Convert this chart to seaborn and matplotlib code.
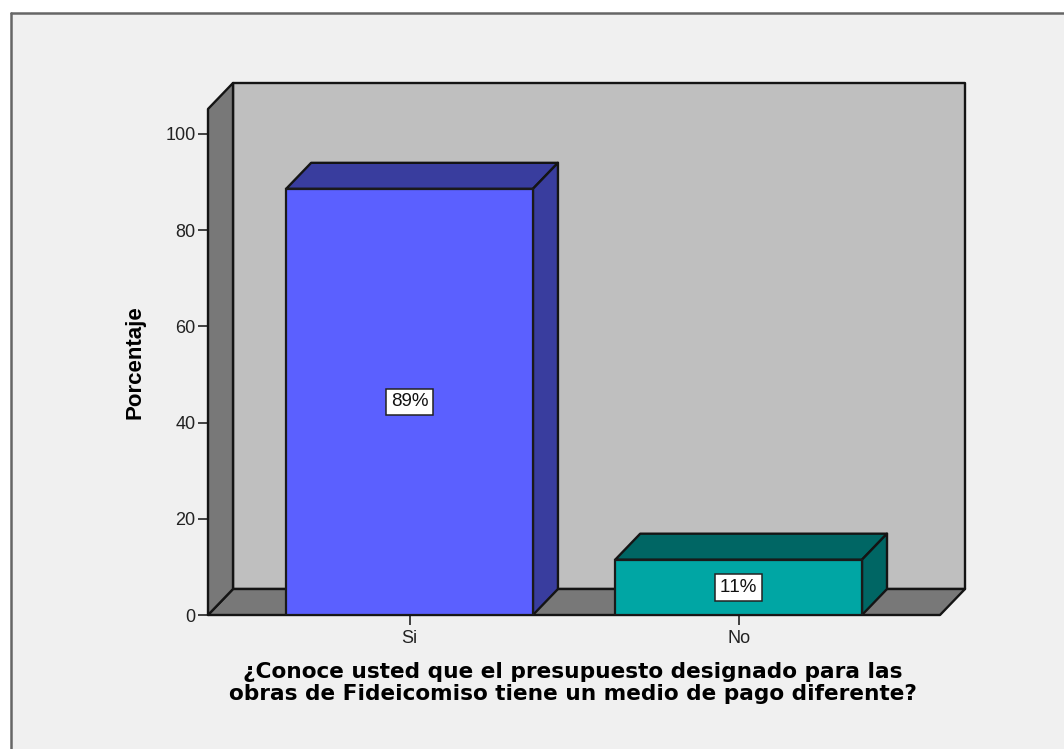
import matplotlib
matplotlib.use("Agg")
import matplotlib.pyplot as plt
from matplotlib.patches import Polygon, Rectangle
from matplotlib.lines import Line2D
import seaborn as sns

categories = ["Si", "No"]
values = [88.6, 11.5]
labels = ["89%", "11%"]
front_colors = ["#5b60ff", "#00a6a4"]
top_colors = ["#393d9e", "#006664"]
y_ticks = [0, 20, 40, 60, 80, 100]
y_title = "Porcentaje"
x_title = "¿Conoce usted que el presupuesto designado para las\nobras de Fideicomiso tiene un medio de pago diferente?"

W, H = 1064, 749
sns.set_theme(style="white")
plt.rcParams["font.family"] = ["Liberation Sans", "DejaVu Sans"]
plt.rcParams["text.kerning_factor"] = 6

fig = plt.figure(figsize=(W / 100, H / 100), dpi=100, facecolor="white")
fig.add_artist(Rectangle((11 / W, 0), 1, 1 - 13 / H, transform=fig.transFigure,
                         facecolor="#f0f0f0", edgecolor="none", zorder=-5))
frame = "#666666"
fig.add_artist(Line2D([11 / W, 11 / W], [0, 1 - 13 / H], color=frame, lw=1.8))
fig.add_artist(Line2D([11 / W, 1], [1 - 13 / H, 1 - 13 / H], color=frame, lw=1.8))

ax = fig.add_axes([208 / W, 1 - 615 / H, 757 / W, 532 / H])
ax.patch.set_visible(False)
for s in ax.spines.values():
    s.set_visible(False)

sns.barplot(x=categories, y=values, hue=categories, hue_order=categories,
            palette=front_colors, width=0.75, saturation=1, legend=False,
            edgecolor="#1a1a1a", linewidth=1.6, ax=ax, zorder=3)

xmin, xmax = -0.6125, 1.688
ymax = 110.6
ax.set_xlim(xmin, xmax)
ax.set_ylim(0, ymax)
dx = 25 / 329
dy = 26 / 4.81
line = dict(edgecolor="#141414", linewidth=1.7, joinstyle="round")
top_front = ymax - dy
right_front = xmax - dx

ax.add_patch(Polygon([(xmin + dx, dy), (xmax, dy), (xmax, ymax), (xmin + dx, ymax)],
                     facecolor="#bfbfbf", zorder=0.5, clip_on=False, **line))
ax.add_patch(Polygon([(xmin, 0), (right_front, 0), (xmax, dy), (xmin + dx, dy)],
                     facecolor="#787878", zorder=0.6, clip_on=False, **line))
ax.add_patch(Polygon([(xmin, 0), (xmin + dx, dy), (xmin + dx, ymax), (xmin, top_front)],
                     facecolor="#787878", zorder=0.7, clip_on=False, **line))

for bar, v, lab, dark in zip(ax.patches[:2], values, labels, top_colors):
    x0, x1 = bar.get_x(), bar.get_x() + bar.get_width()
    ax.add_patch(Polygon([(x0, v), (x1, v), (x1 + dx, v + dy), (x0 + dx, v + dy)],
                         facecolor=dark, zorder=2.5, **line))
    ax.add_patch(Polygon([(x1, 0), (x1 + dx, dy), (x1 + dx, v + dy), (x1, v)],
                         facecolor=dark, zorder=2.5, **line))
    ax.text((x0 + x1) / 2, v / 2, lab, ha="center", va="center", fontsize=13.5,
            color="#111111", zorder=5,
            bbox=dict(boxstyle="square,pad=0.25", facecolor="white",
                      edgecolor="#222222", linewidth=1.1))

ax.set_yticks(y_ticks)
ax.tick_params(axis="y", length=7.5, width=1.2, color="#222222", pad=1.5,
               labelsize=13, labelcolor="#222222", left=True)
ax.tick_params(axis="x", length=7.5, width=1.2, color="#222222", pad=3,
               labelsize=13, labelcolor="#222222", bottom=True)
ax.set_xticks([0, 1])
ax.set_xticklabels(categories)

ax.set_ylabel(y_title, fontsize=16, fontweight="bold", color="black")
ax.yaxis.set_label_coords(-0.082, 0.4756)
ax.set_xlabel(x_title, fontsize=15.6, fontweight="bold", color="black",
              family="DejaVu Sans", linespacing=1.12, va="top")
ax.xaxis.set_label_coords(0.482, -0.0885)

fig.savefig("out.png", dpi=100, facecolor=fig.get_facecolor())
